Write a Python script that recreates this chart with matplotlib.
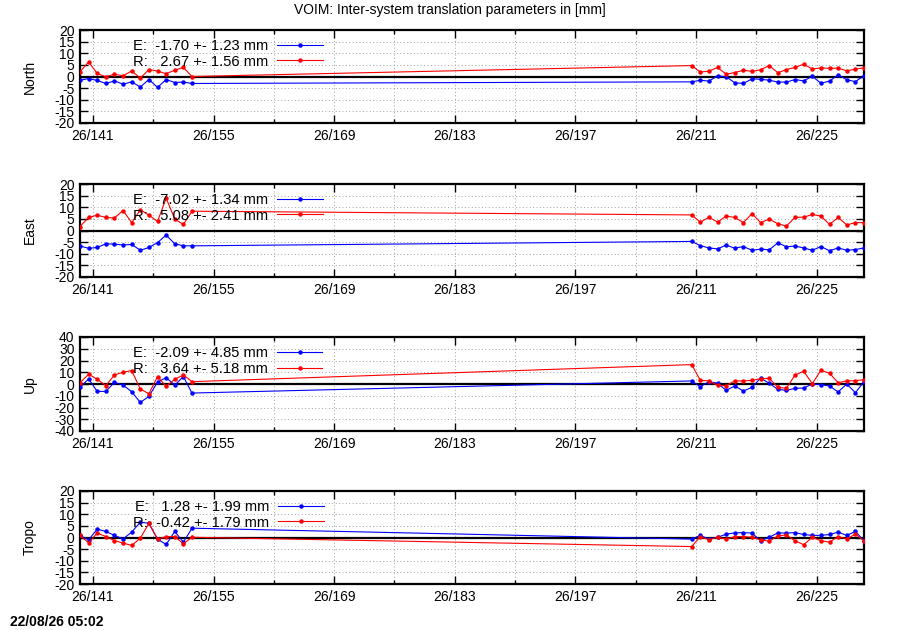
import matplotlib
matplotlib.use("Agg")
import matplotlib.pyplot as plt
from matplotlib.ticker import FixedLocator, MultipleLocator

plt.rcParams['font.family'] = ['Liberation Sans', 'DejaVu Sans']
plt.rcParams['font.size'] = 10
plt.rcParams['axes.unicode_minus'] = False

# ---------------- data ----------------
days = [139.5, 140.5, 141.5, 142.5, 143.5, 144.5, 145.5, 146.5, 147.5, 148.5,
        149.5, 150.5, 151.5, 152.5,
        210.5, 211.5, 212.5, 213.5, 214.5, 215.5, 216.5, 217.5, 218.5, 219.5,
        220.5, 221.5, 222.5, 223.5, 224.5, 225.5, 226.5, 227.5, 228.5, 229.5, 230.5]

north_E = [-1.6, -0.9, -1.7, -3.0, -1.9, -3.3, -2.3, -4.5, -1.3, -4.7, -1.3, -2.6, -2.4, -3.0,
           -2.3, -1.6, -2.0, 0.3, -0.1, -2.7, -3.0, -1.0, -1.2, -1.6, -2.4, -2.4, -1.3, -1.9,
           0.1, -2.9, -2.0, 0.7, -1.4, -2.2, 0.3]
north_R = [2.0, 6.3, 1.3, -0.1, 1.0, 0.3, 2.4, -0.7, 3.0, 2.3, 1.2, 2.7, 3.9, 0.0,
           4.7, 1.9, 2.3, 3.9, 1.0, 1.7, 2.7, 2.2, 2.9, 4.7, 1.6, 3.0, 3.9, 5.3,
           3.2, 3.7, 3.5, 3.6, 2.4, 3.2, 3.7]
east_E = [-6.6, -7.7, -7.3, -5.7, -5.9, -6.2, -6.0, -8.5, -7.3, -5.2, -2.0, -5.7, -6.6, -6.6,
          -4.7, -6.5, -7.5, -7.9, -6.3, -7.6, -6.9, -8.5, -8.0, -8.3, -5.3, -7.0, -6.7, -7.5,
          -8.5, -6.9, -8.7, -7.5, -8.5, -8.2, -7.5]
east_R = [1.7, 5.6, 6.6, 5.6, 5.4, 8.6, 3.4, 8.9, 6.6, 3.9, 13.9, 4.9, 2.6, 8.3,
          6.7, 3.6, 5.7, 3.6, 6.2, 5.6, 3.4, 7.3, 3.4, 4.9, 2.9, 1.9, 5.7, 5.7,
          6.9, 6.2, 2.6, 5.6, 2.4, 3.4, 3.4]
up_E = [-2.8, 4.3, -6.3, -6.3, 1.4, -0.9, -6.6, -15.7, -10.5, 1.7, 5.4, -0.9, 6.3, -7.7,
        2.6, -2.3, 2.0, 0.6, -5.4, -1.7, -6.0, -2.8, 5.1, 0.6, -4.6, -5.4, -3.7, -3.4,
        0.0, -0.6, -1.7, -6.8, 0.0, -7.4, 2.0]
up_R = [1.1, 8.3, 4.0, -1.4, 7.7, 10.0, 11.4, -4.3, -8.3, 6.3, -2.0, 4.0, 7.7, 2.0,
        16.5, 3.1, 2.6, -1.1, -1.4, 2.6, 2.6, 3.1, 4.6, 4.8, -2.8, -3.7, 7.7, 10.8,
        0.3, 11.7, 9.1, 1.1, 2.6, 2.8, 3.7]
tropo_E = [0.9, -1.0, 3.6, 2.6, 0.9, -0.6, 2.3, 6.6, 6.1, -0.7, -3.0, 2.6, -2.0, 4.0,
           -0.7, 0.9, -0.7, 0.1, 1.4, 2.0, 2.1, 1.9, -1.4, 0.1, 2.0, 1.9, 2.1, 1.3,
           0.9, 0.9, 1.3, 2.3, 0.9, 2.6, -1.4]
tropo_R = [0.9, -2.3, 1.9, 0.4, -1.3, -2.4, -3.4, -0.3, 6.1, -0.7, 0.4, 0.4, -2.7, 0.1,
           -3.9, 0.4, -1.0, 0.1, -0.7, 0.4, 0.4, 0.1, -1.0, -1.6, 0.7, 1.1, -1.4, -3.1,
           0.1, -1.4, -2.0, 0.4, -0.6, 1.4, -1.4]

panel_names = ["North", "East", "Up", "Tropo"]
E_series = [north_E, east_E, up_E, tropo_E]
R_series = [north_R, east_R, up_R, tropo_R]
E_labels = ["E:  -1.70 +- 1.23 mm", "E:  -7.02 +- 1.34 mm",
            "E:  -2.09 +- 4.85 mm", "E:   1.28 +- 1.99 mm"]
R_labels = ["R:   2.67 +- 1.56 mm", "R:   5.08 +- 2.41 mm",
            "R:   3.64 +- 5.18 mm", "R:  -0.42 +- 1.79 mm"]
y_limits = [20, 20, 40, 20]
y_steps = [5, 5, 10, 5]

x_major = [141, 155, 169, 183, 197, 211, 225]
x_minor = [148, 162, 176, 190, 204, 218]
x_labels = ["26/141", "26/155", "26/169", "26/183", "26/197", "26/211", "26/225"]
x_range = [139.5, 230.5]

title = "VOIM: Inter-system translation parameters in [mm]"
stamp = "22/08/26 05:02"

# ---------------- figure ----------------
W, H = 900, 630
fig = plt.figure(figsize=(W / 100, H / 100), dpi=100)

# axes pixel boxes (left, top, right, bottom)
boxes = [(80, 30, 864, 123), (80, 184, 864, 277), (80, 337, 864, 431), (80, 491, 864, 584)]

grid_kw = dict(color="#a0a0a0", linestyle=(0, (1, 2.5)), linewidth=0.7)

for i, name in enumerate(panel_names):
    l, t, r, b = boxes[i]
    ax = fig.add_axes([l / W, 1 - b / H, (r - l) / W, (b - t) / H])
    ylim = y_limits[i]
    step = y_steps[i]
    ax.set_xlim(*x_range)
    ax.set_ylim(-ylim, ylim)

    ax.xaxis.set_major_locator(FixedLocator(x_major))
    ax.xaxis.set_minor_locator(FixedLocator(x_minor))
    ax.set_xticklabels(x_labels)
    ax.yaxis.set_major_locator(MultipleLocator(step))

    ax.grid(True, which="both", axis="x", **grid_kw)
    ax.grid(True, which="major", axis="y", **grid_kw)
    ax.set_axisbelow(True)

    ax.tick_params(which="major", direction="in", length=5.5, width=1.0,
                   top=True, right=True, labelsize=10, pad=4, colors="black")
    ax.tick_params(which="minor", direction="in", length=3, width=1.0,
                   top=True, right=False)
    ax.tick_params(axis="y", which="minor", left=False, right=False)
    for sp in ax.spines.values():
        sp.set_linewidth(1.6)

    ax.axhline(0, color="black", linewidth=1.6, zorder=2)
    ax.plot(days, E_series[i], color="#0000ff", linewidth=0.8, marker="o",
            markersize=2.2, label=E_labels[i], zorder=3)
    ax.plot(days, R_series[i], color="#ff0000", linewidth=0.8, marker="o",
            markersize=2.2, label=R_labels[i], zorder=4)

    ax.set_ylabel(name, fontsize=10)
    ax.yaxis.set_label_coords(-0.055, 0.5)

    ax.legend(loc="upper left", bbox_to_anchor=(0.0676, 0.905), frameon=False,
              markerfirst=False, handlelength=3.1, handletextpad=0.6,
              labelspacing=0.12, borderpad=0, borderaxespad=0, numpoints=1,
              fontsize=10.6)

fig.text(0.5, 1 - 10 / H, title, ha="center", va="center", fontsize=10)
fig.text(10 / W, 1 - 622 / H, stamp, ha="left", va="center", fontsize=10,
         fontweight="bold")

fig.savefig("out.png", dpi=100)
